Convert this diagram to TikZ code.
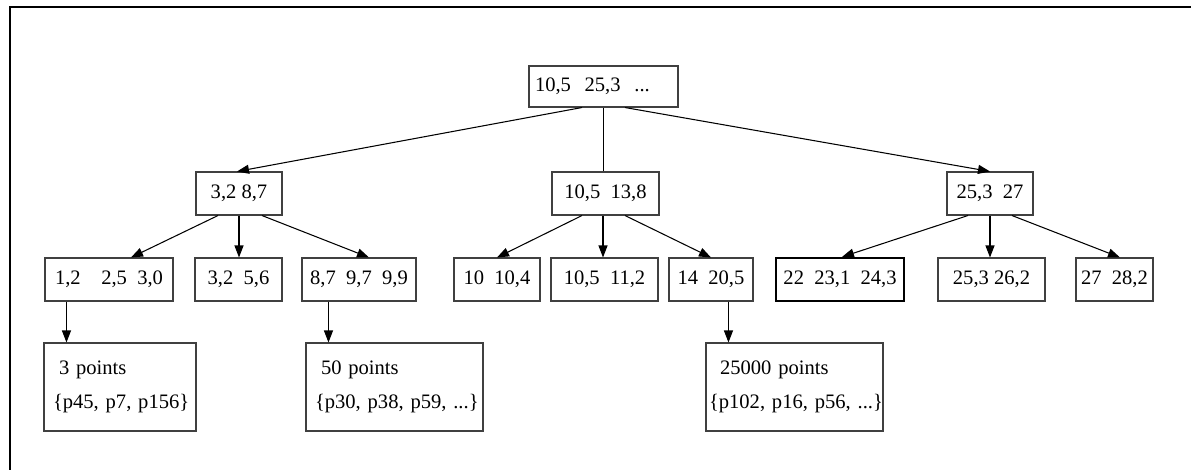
\documentclass[tikz,border=0pt]{standalone}
\usepackage{fontspec}
\setmainfont{Liberation Serif}
\usetikzlibrary{arrows.meta}

\begin{document}
\begin{tikzpicture}[x=0.02cm, y=-0.02cm, font=\fontsize{11.7}{14}\selectfont,
    box/.style={draw=black!75, line width=0.6pt, inner sep=0pt, minimum height=0.86cm},
    ptsbox/.style={draw=black!75, line width=0.6pt, inner xsep=0pt, align=left, minimum height=1.76cm},
    arr/.style={line width=0.6pt, -{Triangle[length=2.4mm, width=1.8mm]}}]
            \useasboundingbox (0,0) rectangle (1191,470);
            \draw[line width=1.7pt] (10,470) -- (10,7) -- (1191,7);

            \node[box, minimum height=0.82cm, text width=2.74cm, inner xsep=0.12cm, align=left] (A1) at (603.5, 86.5) {10,5\ \ 25,3\ \ ...};

            \node[box, minimum width=1.72cm] (A2) at (239, 193.5) {3,2 8,7};
            \node[box, minimum width=2.14cm] (A3) at (605.5, 193.5) {10,5\ \ 13,8};
            \node[box, minimum width=1.72cm] (A4) at (990, 193.5) {25,3\ \ 27};

            \node[box, minimum width=2.56cm] (A5) at (109, 279.5) {1,2\ \ \ \ 2,5\ \ 3,0};
            \node[box, minimum width=1.74cm] (A6) at (238.5, 279.5) {3,2\ \ 5,6};
            \node[box, minimum width=2.28cm] (A7) at (359, 279.5) {8,7\ \ 9,7\ \ 9,9};
            \node[box, minimum width=1.72cm] (A8) at (497, 279.5) {10\ \ 10,4};
            \node[box, minimum width=2.14cm] (A9) at (604.5, 279.5) {10,5\ \ 11,2};
            \node[box, minimum width=1.68cm] (A10) at (711, 279.5) {14\ \ 20,5};
            \node[box, draw=black, line width=1.2pt, minimum width=2.56cm] (A11) at (840, 279.5) {22\ \ 23,1\ \ 24,3};
            \node[box, minimum width=2.14cm] (A12) at (991.5, 279.5) {25,3 26,2};
            \node[box, minimum width=1.54cm] (A13) at (1114.5, 279.5) {27\ \ 28,2};

            \node[ptsbox, text width=3.04cm] (A14) at (120, 387) {\hspace*{0.3cm}3 points\\[5.3pt]\hspace*{0.18cm}\mbox{\{p45, p7, p156\}}};
            \node[ptsbox, text width=3.54cm] (A15) at (394.5, 387) {\hspace*{0.3cm}50 points\\[5.3pt]\hspace*{0.18cm}\mbox{\{p30, p38, p59, ...\}}};
            \node[ptsbox, text width=3.54cm] (A16) at (794.5, 387) {\hspace*{0.28cm}25000 points\\[5.3pt]\hspace*{0.06cm}\mbox{\{p102, p16, p56, ...\}}};

            \draw[arr] ([xshift=-0.43cm]A1.south) -- ([xshift=-0.04cm]A2.north);
            \draw[line width=0.6pt] (A1.south) -- (A1.south |- A3.north);
            \draw[arr] ([xshift=0.43cm]A1.south) -- (A4.north);

            \draw[arr] ([xshift=-0.42cm]A2.south) -- ([xshift=0.44cm]A5.north);
            \draw[arr] (A2.south) -- (A2.south |- A6.north);
            \draw[arr] ([xshift=0.46cm]A2.south) -- ([xshift=0.2cm]A7.north);

            \draw[arr] ([xshift=-0.47cm]A3.south) -- (A8.north);
            \draw[arr] ([xshift=-0.05cm]A3.south) -- ([xshift=-0.05cm]A3.south |- A9.north);
            \draw[arr] ([xshift=0.39cm]A3.south) -- (A10.north);

            \draw[arr] ([xshift=-0.44cm]A4.south) -- ([xshift=0.04cm]A11.north);
            \draw[arr] (A4.south) -- (A4.south |- A12.north);
            \draw[arr] ([xshift=0.44cm]A4.south) -- ([xshift=0.11cm]A13.north);

            \draw[arr] ([xshift=0.44cm]A5.south west) -- ([xshift=0.44cm]A5.south west |- A14.north);
            \draw[arr] ([xshift=0.54cm]A7.south west) -- ([xshift=0.54cm]A7.south west |- A15.north);
            \draw[arr] ([xshift=1.2cm]A10.south west) -- ([xshift=1.2cm]A10.south west |- A16.north);
\end{tikzpicture}
\end{document}
